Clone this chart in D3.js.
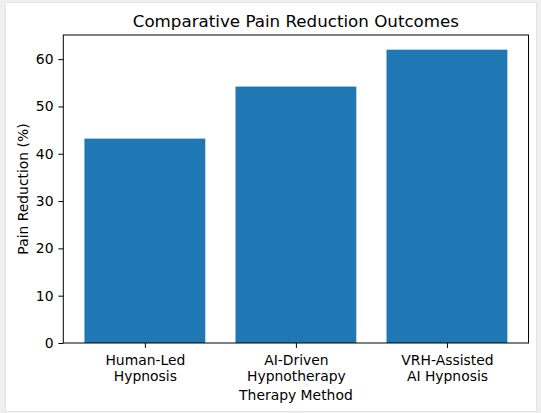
<!DOCTYPE html>
<html>
<head>
<meta charset="utf-8">
<title>Comparative Pain Reduction Outcomes</title>
<script src="https://cdn.jsdelivr.net/npm/d3@7"></script>
<style>
  html, body { margin: 0; padding: 0; background: #efefef; }
  svg { display: block; }
  text { font-family: "DejaVu Sans", sans-serif; fill: #000; }
</style>
</head>
<body>
<div id="chart"></div>
<script>
// data
var categories = ["Human-Led\nHypnosis", "AI-Driven\nHypnotherapy", "VRH-Assisted\nAI Hypnosis"];
var values = [43.2, 54.2, 62.0];
var yTicks = [0, 10, 20, 30, 40, 50, 60];

var W = 541, H = 413;
var margin = {left: 63.3, right: 541 - 528.5, top: 35, bottom: 413 - 343};

var svg = d3.select("#chart").append("svg")
  .attr("width", W).attr("height", H);

// white figure card
svg.append("rect")
  .attr("x", 5.5).attr("y", 2.5).attr("width", 531).attr("height", 409)
  .attr("fill", "#fff").attr("stroke", "#e4e4e4");

var pw = W - margin.left - margin.right,
    ph = H - margin.top - margin.bottom;

var g = svg.append("g").attr("transform", "translate(" + margin.left + "," + margin.top + ")");

// matplotlib-like limits: bar width 0.8, 5% margins
var x = d3.scaleLinear().domain([-0.54, 2.54]).range([0, pw]);
var y = d3.scaleLinear().domain([0, d3.max(values) * 1.05]).range([ph, 0]);

g.selectAll("rect.bar")
  .data(values)
  .enter().append("rect")
  .attr("class", "bar")
  .attr("x", function(d, i) { return x(i - 0.4); })
  .attr("width", function(d, i) { return x(i + 0.4) - x(i - 0.4); })
  .attr("y", function(d) { return y(d); })
  .attr("height", function(d) { return y(0) - y(d); })
  .attr("fill", "#1f77b4");

// y axis
var yAxis = g.append("g")
  .call(d3.axisLeft(y).tickValues(yTicks).tickSize(4.9).tickPadding(4.9));
yAxis.select(".domain").remove();
yAxis.selectAll("line").attr("stroke", "#000").attr("stroke-width", 1);
yAxis.selectAll("text").style("font-size", "13.9px").attr("font-family", null);

// x axis
var xAxis = g.append("g")
  .attr("transform", "translate(0," + ph + ")")
  .call(d3.axisBottom(x).tickValues([0, 1, 2]).tickSize(4.9).tickPadding(4.9).tickFormat(""));
xAxis.select(".domain").remove();
xAxis.selectAll("line").attr("stroke", "#000").attr("stroke-width", 1);
xAxis.selectAll(".tick").each(function(d) {
  var lines = categories[d].split("\n");
  var t = d3.select(this).select("text").text(null)
    .attr("y", 9.8).attr("dy", null)
    .style("font-size", "13.9px").attr("font-family", null);
  lines.forEach(function(s, k) {
    t.append("tspan").attr("x", 0).attr("dy", k === 0 ? "0.9em" : "1.12em").text(s);
  });
});

// frame
g.append("rect")
  .attr("width", pw).attr("height", ph)
  .attr("fill", "none").attr("stroke", "#000").attr("stroke-width", 1);

// labels
svg.append("text")
  .attr("x", margin.left + pw / 2).attr("y", 27)
  .attr("text-anchor", "middle")
  .style("font-size", "16.7px")
  .text("Comparative Pain Reduction Outcomes");

svg.append("text")
  .attr("x", margin.left + pw / 2).attr("y", 400)
  .attr("text-anchor", "middle")
  .style("font-size", "13.9px")
  .text("Therapy Method");

svg.append("text")
  .attr("transform", "translate(28," + (margin.top + ph / 2) + ") rotate(-90)")
  .attr("text-anchor", "middle")
  .style("font-size", "13.9px")
  .text("Pain Reduction (%)");
</script>
</body>
</html>
